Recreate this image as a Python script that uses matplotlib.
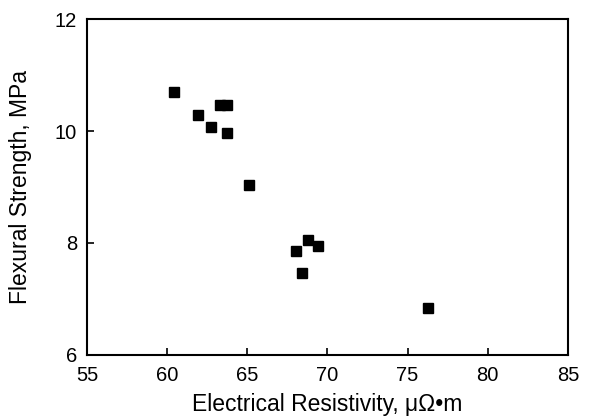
import matplotlib
matplotlib.use("Agg")
import matplotlib.pyplot as plt

resistivity = [60.45, 61.95, 62.75, 63.3, 63.75, 63.75, 65.1, 68.05, 68.4, 68.8, 69.4, 76.25]
strength = [10.70, 10.29, 10.07, 10.46, 10.46, 9.96, 9.04, 7.86, 7.46, 8.05, 7.95, 6.84]
xticks = [55, 60, 65, 70, 75, 80, 85]
yticks = [6, 8, 10, 12]

plt.rcParams['font.family'] = ['Liberation Sans', 'DejaVu Sans']

fig = plt.figure(figsize=(5.91, 4.17), dpi=100)
ax = fig.add_axes([0.147, 0.149, 0.814, 0.805])
ax.plot(resistivity, strength, linestyle='none', marker='s', markersize=7.3,
        color='black')
ax.set_xlim(55, 85)
ax.set_ylim(6, 12)
ax.set_xticks(xticks)
ax.set_yticks(yticks)
for s in ax.spines.values():
    s.set_linewidth(1.5)
ax.tick_params(direction='in', length=5, width=1.2, labelsize=14.5)
ax.tick_params(axis='x', pad=8)
ax.tick_params(axis='y', pad=7)
ax.set_xlabel('Electrical Resistivity, μΩ•m', fontsize=16.5)
ax.set_ylabel('Flexural Strength, MPa', fontsize=16.5)
ax.xaxis.label.set_va('center')
ax.yaxis.label.set_va('center')
ax.xaxis.set_label_coords(0.5, -0.147)
ax.yaxis.set_label_coords(-0.139, 0.5)
fig.savefig('out.png', dpi=100)
